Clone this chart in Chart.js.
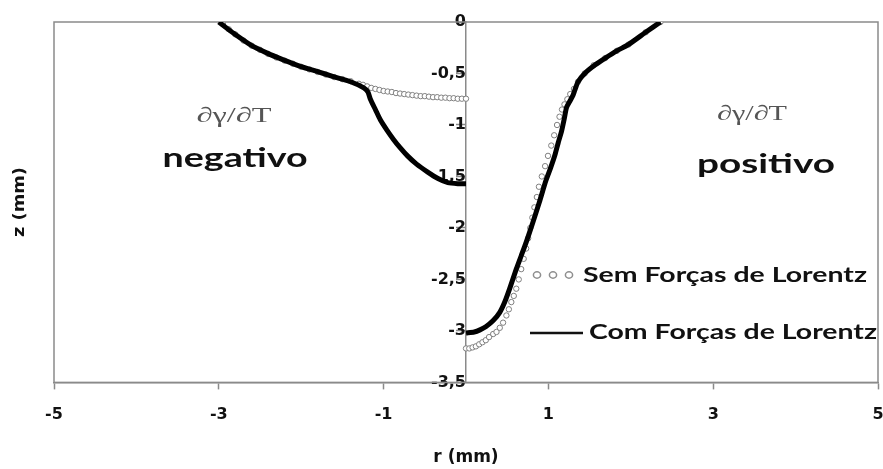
<!DOCTYPE html>
<html>
<head>
<meta charset="utf-8">
<script src="https://cdn.jsdelivr.net/npm/chart.js@4.4.1/dist/chart.umd.min.js"></script>
<style>
  html, body { margin: 0; padding: 0; background: #fff; }
  #wrap { width: 883px; height: 469px; }
</style>
</head>
<body>
<div id="wrap"><canvas id="lorentzChart" width="883" height="469"></canvas></div>
<script>
// r (mm) / z (mm) values
const semLeftR = [-2.95, -2.88, -2.8, -2.7, -2.6, -2.5, -2.4, -2.3, -2.2, -2.1, -2.0, -1.9, -1.8, -1.7, -1.6, -1.5, -1.4, -1.3, -1.25, -1.2, -1.15, -1.1, -1.05, -1.0, -0.95, -0.9, -0.85, -0.8, -0.75, -0.7, -0.65, -0.6, -0.55, -0.5, -0.45, -0.4, -0.35, -0.3, -0.25, -0.2, -0.15, -0.1, -0.05, 0];
const semLeftZ = [-0.02, -0.07, -0.12, -0.18, -0.23, -0.27, -0.31, -0.345, -0.375, -0.405, -0.435, -0.46, -0.485, -0.51, -0.535, -0.555, -0.575, -0.6, -0.61, -0.625, -0.64, -0.65, -0.66, -0.67, -0.675, -0.68, -0.69, -0.695, -0.70, -0.705, -0.71, -0.715, -0.72, -0.72, -0.725, -0.73, -0.73, -0.735, -0.735, -0.74, -0.74, -0.745, -0.745, -0.745];

const semRightR = [0, 0.04, 0.08, 0.12, 0.16, 0.2, 0.24, 0.28, 0.33, 0.37, 0.41, 0.45, 0.49, 0.52, 0.55, 0.58, 0.61, 0.64, 0.67, 0.70, 0.73, 0.755, 0.78, 0.805, 0.83, 0.86, 0.885, 0.92, 0.96, 0.995, 1.035, 1.07, 1.105, 1.135, 1.165, 1.195, 1.23, 1.265, 1.31, 1.36, 1.44, 1.55, 1.69, 1.83, 1.97, 2.18, 2.36];
const semRightZ = [-3.17, -3.17, -3.16, -3.15, -3.13, -3.11, -3.09, -3.06, -3.03, -3.01, -2.97, -2.92, -2.85, -2.79, -2.72, -2.66, -2.59, -2.5, -2.4, -2.3, -2.2, -2.1, -2.0, -1.9, -1.8, -1.7, -1.6, -1.5, -1.4, -1.3, -1.2, -1.1, -1.0, -0.92, -0.85, -0.8, -0.75, -0.7, -0.65, -0.58, -0.5, -0.42, -0.35, -0.28, -0.22, -0.1, 0];

const comLeftR = [-3.0, -2.92, -2.82, -2.62, -2.42, -2.21, -2.01, -1.81, -1.61, -1.4, -1.24, -1.19, -1.16, -1.1, -1.04, -0.96, -0.88, -0.8, -0.71, -0.6, -0.46, -0.34, -0.22, -0.1, 0];
const comLeftZ = [0, -0.05, -0.11, -0.22, -0.30, -0.37, -0.43, -0.48, -0.53, -0.58, -0.64, -0.68, -0.75, -0.85, -0.95, -1.05, -1.14, -1.22, -1.30, -1.38, -1.46, -1.52, -1.56, -1.57, -1.57];

const comRightR = [0, 0.1, 0.17, 0.24, 0.33, 0.41, 0.47, 0.53, 0.61, 0.67, 0.73, 0.81, 0.89, 0.97, 1.03, 1.08, 1.12, 1.16, 1.19, 1.22, 1.26, 1.30, 1.33, 1.36, 1.44, 1.56, 1.69, 1.83, 1.97, 2.18, 2.36];
const comRightZ = [-3.02, -3.01, -2.99, -2.96, -2.9, -2.82, -2.72, -2.59, -2.40, -2.27, -2.14, -1.95, -1.75, -1.54, -1.41, -1.29, -1.17, -1.06, -0.95, -0.83, -0.77, -0.71, -0.64, -0.58, -0.50, -0.42, -0.35, -0.28, -0.22, -0.1, 0];

const rTicks = [-5, -3, -1, 1, 3, 5];
const zTicks = [0, -0.5, -1, -1.5, -2, -2.5, -3, -3.5];
const seriesNames = ['Sem Forças de Lorentz', 'Com Forças de Lorentz'];

const AXIS_GRAY = '#8a8a8a';
const tickFont = { family: 'DejaVu Sans', weight: 'bold', size: 16 };

function pairs(rs, zs) {
  return rs.map((r, i) => ({ x: r, y: zs[i] }));
}

// the source picture is stretched sideways, so text is scaled to a target width
function fitText(ctx, text, x, y, width, align) {
  const w = ctx.measureText(text).width;
  ctx.save();
  ctx.translate(x, y);
  ctx.scale(width / w, 1);
  ctx.textAlign = 'left';
  ctx.fillText(text, align === 'center' ? -w / 2 : 0, 0);
  ctx.restore();
}

const boxPlugin = {
  id: 'box',
  beforeDatasetsDraw(chart) {
    const { ctx, chartArea: a } = chart;
    ctx.save();
    ctx.strokeStyle = AXIS_GRAY;
    ctx.lineWidth = 1.5;
    ctx.strokeRect(a.left, a.top, a.right - a.left, a.bottom - a.top);
    ctx.restore();
  }
};

const notesPlugin = {
  id: 'notes',
  afterDraw(chart) {
    const ctx = chart.ctx;
    ctx.save();

    ctx.fillStyle = '#555';
    ctx.font = '21px "Liberation Serif", "DejaVu Serif", serif';
    ctx.textBaseline = 'middle';
    fitText(ctx, '∂γ/∂T', 234, 116, 75, 'center');
    fitText(ctx, '∂γ/∂T', 752, 114, 70, 'center');

    ctx.fillStyle = '#111';
    ctx.textBaseline = 'alphabetic';
    ctx.font = 'bold 27px Lato, "Open Sans", sans-serif';
    fitText(ctx, 'negativo', 235, 167, 145, 'center');
    fitText(ctx, 'positivo', 766, 173, 138, 'center');

    // legend
    ctx.font = 'bold 21px Lato, "Open Sans", sans-serif';
    fitText(ctx, seriesNames[0], 583, 282, 284, 'left');
    fitText(ctx, seriesNames[1], 589, 339, 288, 'left');
    ctx.strokeStyle = '#8f8f8f';
    ctx.lineWidth = 1.5;
    [537, 553, 569].forEach(cx => {
      ctx.beginPath();
      ctx.ellipse(cx, 275, 3.6, 3.2, 0, 0, Math.PI * 2);
      ctx.stroke();
    });
    ctx.strokeStyle = '#111';
    ctx.lineWidth = 2.5;
    ctx.beginPath();
    ctx.moveTo(530, 333);
    ctx.lineTo(583, 333);
    ctx.stroke();

    // z axis title
    ctx.translate(20, 202);
    ctx.rotate(-Math.PI / 2);
    ctx.font = 'bold 16px "DejaVu Sans", sans-serif';
    ctx.textBaseline = 'middle';
    fitText(ctx, 'z (mm)', 0, 0, 70, 'center');
    ctx.restore();
  }
};

const semStyle = {
  showLine: false,
  pointStyle: 'circle',
  pointRadius: 2.7,
  pointBorderWidth: 1,
  pointBorderColor: '#808080',
  pointBackgroundColor: '#fff',
  order: 2
};
const comStyle = {
  showLine: true,
  borderColor: '#000',
  borderWidth: 5,
  pointRadius: 0,
  tension: 0.2,
  fill: false,
  order: 1
};

const ctx = document.getElementById('lorentzChart').getContext('2d');
new Chart(ctx, {
  type: 'scatter',
  data: {
    datasets: [
      Object.assign({ label: seriesNames[0], data: pairs(semLeftR, semLeftZ) }, semStyle),
      Object.assign({ label: seriesNames[0], data: pairs(semRightR, semRightZ) }, semStyle),
      Object.assign({ label: seriesNames[1], data: pairs(comLeftR, comLeftZ) }, comStyle),
      Object.assign({ label: seriesNames[1], data: pairs(comRightR, comRightZ) }, comStyle)
    ]
  },
  options: {
    responsive: false,
    animation: false,
    layout: { padding: { left: 54, right: 5, top: 22, bottom: 1 } },
    plugins: {
      legend: { display: false },
      tooltip: { enabled: false }
    },
    scales: {
      x: {
        type: 'linear',
        position: 'bottom',
        min: -5,
        max: 5,
        afterBuildTicks: axis => { axis.ticks = rTicks.map(v => ({ value: v })); },
        afterFit: axis => { axis.paddingLeft = 0; axis.paddingRight = 0; },
        ticks: { font: tickFont, color: '#111', padding: 16, maxRotation: 0, autoSkip: false },
        grid: { drawOnChartArea: false, tickLength: 7, tickColor: AXIS_GRAY, tickWidth: 1.5 },
        border: { color: AXIS_GRAY, width: 1.5 },
        title: {
          display: true,
          text: 'r (mm)',
          color: '#111',
          font: { family: 'DejaVu Sans', weight: 'bold', size: 17 },
          padding: { top: 7, bottom: 0 }
        }
      },
      y: {
        type: 'linear',
        position: { x: 0 },
        min: -3.5,
        max: 0,
        afterBuildTicks: axis => { axis.ticks = zTicks.map(v => ({ value: v })); },
        ticks: {
          font: tickFont,
          color: '#111',
          padding: 6,
          callback: v => String(v).replace('.', ',')
        },
        grid: { drawOnChartArea: false, tickLength: 9, tickColor: AXIS_GRAY, tickWidth: 1.5 },
        border: { color: AXIS_GRAY, width: 1.5 }
      }
    }
  },
  plugins: [boxPlugin, notesPlugin]
});
</script>
</body>
</html>
